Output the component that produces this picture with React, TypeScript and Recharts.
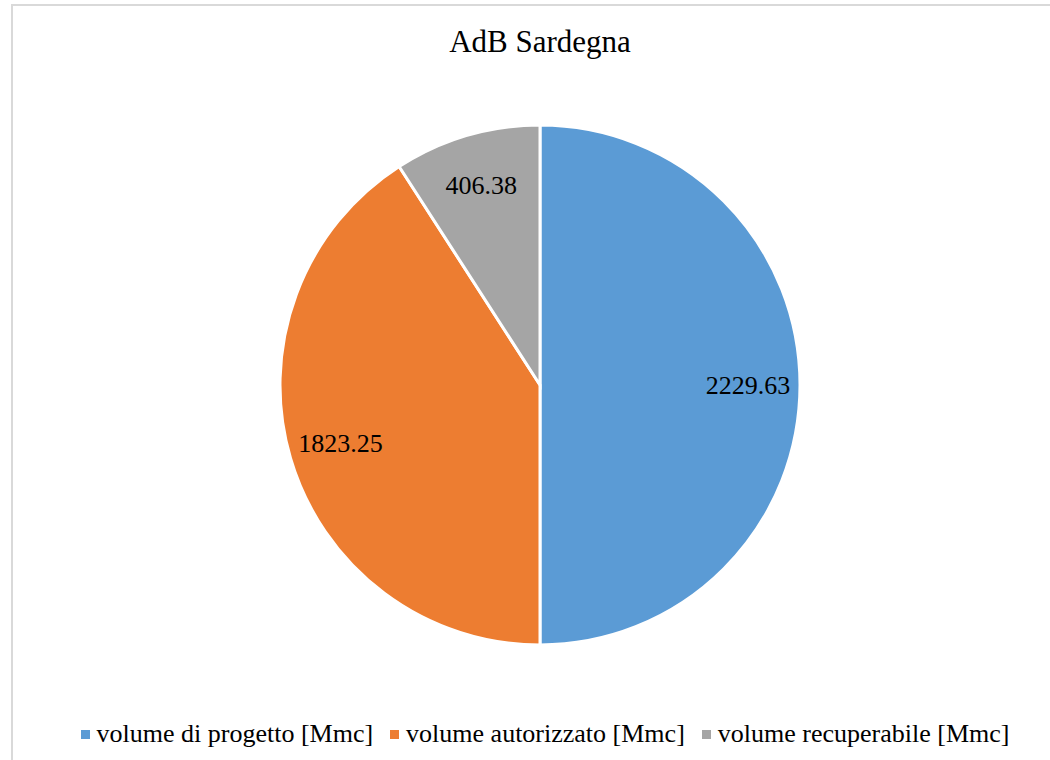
import React from "react";
import { PieChart, Pie, Cell, Legend } from "recharts";

const categories = [
  "volume di progetto [Mmc]",
  "volume autorizzato [Mmc]",
  "volume recuperabile [Mmc]",
];
const values = [2229.63, 1823.25, 406.38];
const colors = ["#5b9bd5", "#ed7d31", "#a5a5a5"];

const data = categories.map((name, i) => ({ name, value: values[i] }));

const FONT = '"Liberation Serif", "Times New Roman", serif';
const RADIAN = Math.PI / 180;

const renderLabel = (props: any) => {
  const { cx, cy, midAngle, outerRadius, value } = props;
  const r = outerRadius * 0.8;
  const x = cx + r * Math.cos(-midAngle * RADIAN);
  const y = cy + r * Math.sin(-midAngle * RADIAN);
  return (
    <text
      x={x}
      y={y}
      fill="#000"
      textAnchor="middle"
      dominantBaseline="central"
      style={{ fontFamily: FONT, fontSize: 26 }}
    >
      {value.toFixed(2)}
    </text>
  );
};

const renderLegend = () => (
  <div
    style={{
      display: "flex",
      justifyContent: "center",
      alignItems: "center",
      fontFamily: FONT,
      fontSize: 26,
      color: "#000",
    }}
  >
    {categories.map((c, i) => (
      <div key={c} style={{ display: "flex", alignItems: "center", marginRight: i < 2 ? 17 : 0 }}>
        <span
          style={{
            display: "inline-block",
            width: 9,
            height: 9,
            background: colors[i],
            marginRight: 7,
          }}
        />
        <span>{c}</span>
      </div>
    ))}
  </div>
);

export default function App() {
  return (
    <div
      style={{
        position: "absolute",
        left: 0,
        top: 0,
        width: 1050,
        height: 760,
        overflow: "hidden",
        background: "#fff",
      }}
    >
      <div
        style={{
          position: "absolute",
          left: 11,
          top: 4,
          width: 1060,
          height: 780,
          border: "2px solid #d9d9d9",
        }}
      />
      <div
        style={{
          position: "absolute",
          top: 24,
          left: 0,
          width: 1080,
          textAlign: "center",
          fontFamily: FONT,
          fontSize: 31,
          color: "#000",
        }}
      >
        AdB Sardegna
      </div>
      <div style={{ position: "absolute", left: 0, top: 0 }}>
        <PieChart width={1050} height={760} margin={{ top: 0, right: 0, bottom: 0, left: 0 }}>
          <Pie
            data={data}
            dataKey="value"
            nameKey="name"
            cx={540}
            cy={385}
            outerRadius={260}
            startAngle={90}
            endAngle={-270}
            stroke="#fff"
            strokeWidth={3}
            label={renderLabel}
            labelLine={false}
            isAnimationActive={false}
          >
            {data.map((_, i) => (
              <Cell key={i} fill={colors[i]} />
            ))}
          </Pie>
          <Legend
            content={renderLegend}
            verticalAlign="bottom"
            wrapperStyle={{ left: 0, width: 1090, top: 719, bottom: "auto" }}
          />
        </PieChart>
      </div>
    </div>
  );
}
